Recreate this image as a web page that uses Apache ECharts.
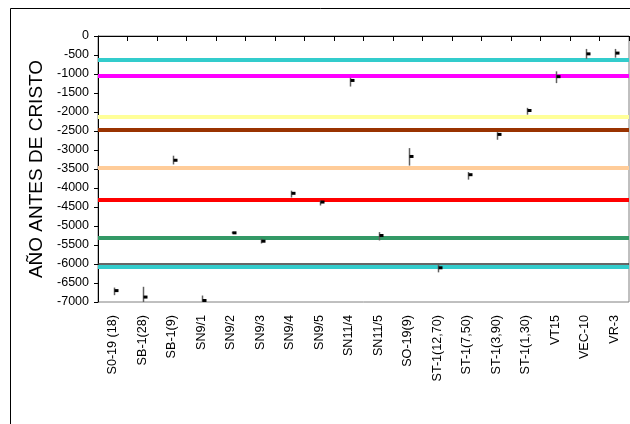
<!DOCTYPE html>
<html>
<head>
<meta charset="utf-8">
<script src="https://cdn.jsdelivr.net/npm/echarts@6/dist/echarts.min.js"></script>
<style>
html,body{margin:0;padding:0;background:#fff;}
#c{width:630px;height:424px;}
</style>
</head>
<body>
<div id="c"></div>
<script>
var categories = ['S0-19 (18)','SB-1(28)','SB-1(9)','SN9/1','SN9/2','SN9/3','SN9/4','SN9/5','SN11/4','SN11/5','SO-19(9)','ST-1(12,70)','ST-1(7,50)','ST-1(3,90)','ST-1(1,30)','VT15','VEC-10','VR-3'];
var highs  = [-6620,-6600,-3150,-6830,-5150,-5330,-4070,-4330,-1100,-5160,-2950,-5990,-3580,-2530,-1890, -930, -340, -340];
var lows   = [-6820,-7000,-3380,-7000,-5200,-5460,-4250,-4460,-1330,-5380,-3410,-6220,-3780,-2730,-2070,-1240, -600, -570];
var closes = [-6700,-6870,-3270,-6960,-5180,-5400,-4140,-4370,-1170,-5250,-3170,-6100,-3650,-2590,-1960,-1070, -470, -450];
var refValues = [-630,-1040,-2130,-2470,-3480,-4300,-5300,-6000,-6080];
var refColors = ['#33CCCC','#FF00FF','#FFFF99','#993300','#FFCC99','#FF0000','#339966','#333333','#33CCCC'];
var refWidths = [4,4,4,4,4,4,4,1.5,4];
var yTickLabels = ['0','-500','-1000','-1500','-2000','-2500','-3000','-3500','-4000','-4500','-5000','-5500','-6000','-6500','-7000'];

var stockData = categories.map(function(c, i){ return [i, highs[i], lows[i], closes[i]]; });
var markData = refValues.map(function(v, i){
  return {yAxis: v, lineStyle: {color: refColors[i], width: refWidths[i], type: 'solid'}};
});

var chart = echarts.init(document.getElementById('c'), null, {renderer: 'canvas'});
chart.setOption({
  animation: false,
  backgroundColor: '#fff',
  textStyle: {fontFamily: 'Liberation Sans, Arial, sans-serif'},
  graphic: [{
    type: 'rect', z: -1,
    shape: {x: 10.5, y: 8.5, width: 700, height: 500},
    style: {fill: 'none', stroke: '#000', lineWidth: 1}
  }],
  grid: {left: 98, top: 36, right: 1, bottom: 122, show: true, borderColor: '#808080', borderWidth: 1, backgroundColor: 'transparent'},
  xAxis: {
    type: 'category',
    data: categories,
    boundaryGap: true,
    axisLine: {lineStyle: {color: '#000', width: 1}},
    axisTick: {show: true, inside: false, length: 5, alignWithLabel: false, lineStyle: {color: '#000'}},
    axisLabel: {rotate: 90, margin: 13, fontSize: 12.6, color: '#000', interval: 0, fontFamily: 'Liberation Sans, Arial, sans-serif'},
    splitLine: {show: false}
  },
  yAxis: {
    type: 'value',
    min: -7000, max: 0, interval: 500,
    name: 'AÑO ANTES DE CRISTO',
    nameLocation: 'middle',
    nameRotate: 90,
    nameGap: 46,
    nameTextStyle: {fontSize: 19, color: '#000', fontFamily: 'Liberation Sans, Arial, sans-serif'},
    axisLine: {show: true, lineStyle: {color: '#000', width: 1}},
    axisTick: {show: true, inside: false, length: 4, lineStyle: {color: '#000'}},
    axisLabel: {margin: 9, fontSize: 12.5, color: '#000', fontFamily: 'Liberation Sans, Arial, sans-serif',
      formatter: function(v){ var s = String(v); return yTickLabels.indexOf(s) >= 0 ? s : ''; }},
    splitLine: {show: false}
  },
  series: [
    {
      type: 'line',
      data: [],
      z: 1,
      silent: true,
      markLine: {
        silent: true,
        symbol: ['none','none'],
        label: {show: false},
        data: markData
      }
    },
    {
      type: 'custom',
      z: 5,
      data: stockData,
      encode: {x: 0, y: [1,2,3]},
      renderItem: function(params, api){
        var x = api.value(0);
        var hi = api.coord([x, api.value(1)]);
        var lo = api.coord([x, api.value(2)]);
        var cl = api.coord([x, api.value(3)]);
        var cx = Math.round(hi[0]) + 1.5;
        return {
          type: 'group',
          children: [
            {type: 'line', shape: {x1: cx, y1: hi[1], x2: cx, y2: lo[1]}, style: {stroke: '#606060', lineWidth: 1.5}},
            {type: 'rect', shape: {x: cx, y: cl[1] - 1.5, width: 4, height: 3}, style: {fill: '#000'}}
          ]
        };
      }
    }
  ]
});
</script>
</body>
</html>
